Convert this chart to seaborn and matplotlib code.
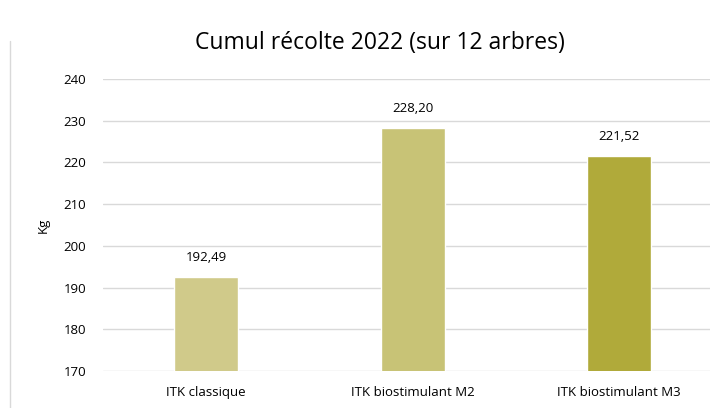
import matplotlib
matplotlib.use('Agg')
import matplotlib.pyplot as plt
import seaborn as sns
import pandas as pd

# data
categories = ['ITK classique', 'ITK biostimulant M2', 'ITK biostimulant M3']
harvest_kg = [192.49, 228.20, 221.52]
bar_colors = ['#D0CA8A', '#C8C376', '#B0AA3A']
y_ticks = [170, 180, 190, 200, 210, 220, 230, 240]

df = pd.DataFrame({'cat': categories, 'kg': harvest_kg})

sns.set_theme(style='white')
plt.rcParams['font.family'] = ['Open Sans', 'DejaVu Sans']
plt.rcParams['text.color'] = '#000000'

fig = plt.figure(figsize=(7.21, 4.08), dpi=100)
ax = fig.add_axes([103 / 721, 1 - 371 / 408, 607 / 721, (371 - 79) / 408])

sns.barplot(data=df, x='cat', y='kg', hue='cat', palette=bar_colors,
            saturation=1, width=0.31, legend=False, ax=ax, zorder=3)

ax.set_ylim(170, 240)
ax.set_yticks(y_ticks)
ax.set_xlim(-0.5, 2.44)
ax.grid(axis='y', color='#D9D9D9', linewidth=1, zorder=0)
for s in ax.spines.values():
    s.set_visible(False)
ax.tick_params(axis='both', length=0, labelsize=9.5, colors='#000000')
ax.tick_params(axis='x', pad=11)
ax.tick_params(axis='y', pad=12)
ax.set_xlabel('')
ax.set_ylabel('Kg', fontsize=9.5, labelpad=10, color='#000000')

for i, v in enumerate(harvest_kg):
    ax.text(i, v + 3.2, f'{v:.2f}'.replace('.', ','), ha='center', va='bottom',
            fontsize=9.5, color='#000000')

fig.text(0.527, 0.895, 'Cumul récolte 2022 (sur 12 arbres)', ha='center',
         va='center', fontsize=16.5, color='#000000')

# chart frame line at left
fig.add_artist(plt.Line2D([10 / 721, 10 / 721], [0, 0.9], color='#D9D9D9',
                          linewidth=1, transform=fig.transFigure))

fig.savefig('out.png', dpi=100)
